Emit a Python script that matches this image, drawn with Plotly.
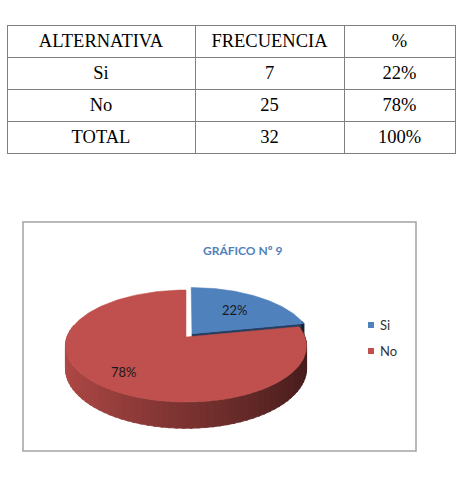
import numpy as np
import plotly.graph_objects as go

# ---------------- data ----------------
categories = ["Si", "No"]
frequencies = [7, 25]
table_header = ["ALTERNATIVA", "FRECUENCIA", "%"]
total_label = "TOTAL"
chart_title = "GRÁFICO Nº 9"

total = sum(frequencies)
fractions = [f / total for f in frequencies]
pct_labels = [f"{round(p * 100)}%" for p in fractions]

col_alt = categories + [total_label]
col_freq = [str(f) for f in frequencies] + [str(total)]
col_pct = pct_labels + ["100%"]

# ---------------- style / geometry ----------------
W, H = 457, 480
slice_rgb = [(79, 129, 189), (192, 80, 77)]
face_rgb = [(36, 62, 98), (110, 42, 40)]
explode = [0.08, 0.0]
label_r = [0.62, 0.75]
CX, CY, RX, A, K, DEPTH = 186.0, 337.0, 119.0, 54.6, 0.161, 22.0


def proj(theta_deg, r=1.0, z=0.0, off=(0.0, 0.0)):
    t = np.radians(theta_deg)
    c = r * np.cos(t) + off[0]
    s = r * np.sin(t) + off[1]
    w = 1 + K * s
    return CX + RX * c / w, CY - A * s / w + DEPTH * z / w


def rgb(c, b=1.0):
    return "rgb(%d,%d,%d)" % tuple(int(max(0, min(255, v * b))) for v in c)


fig = go.Figure()

# slice angle ranges (clockwise from 12 o'clock)
ranges = []
start = 90.0
for f in fractions:
    end = start - 360.0 * f
    ranges.append((start, end))
    start = end


def add_poly(xs, ys, color, lw=0.6):
    fig.add_trace(go.Scatter(x=list(xs), y=list(ys), mode="lines", fill="toself",
                             fillcolor=color, line=dict(color=color, width=lw),
                             hoverinfo="skip", showlegend=False))


def draw_slice(i):
    a0, a1 = ranges[i]
    mid = np.radians((a0 + a1) / 2)
    off = (explode[i] * np.cos(mid), explode[i] * np.sin(mid))
    col = slice_rgb[i]
    # cut face at end angle (visible for the first, exploded slice)
    if i == 0:
        cx0, cy0 = proj(0, 0, 0, off)
        cx1, cy1 = proj(0, 0, 1, off)
        ex0, ey0 = proj(a1, 1, 0, off)
        ex1, ey1 = proj(a1, 1, 1, off)
        add_poly([cx0, ex0, ex1, cx1, cx0], [cy0, ey0, ey1, cy1, cy0], rgb(face_rgb[i]))
    # outer wall strips (only the ones facing the viewer)
    step = 3.0
    n = int(np.ceil(abs(a0 - a1) / step))
    edges = np.linspace(a0, a1, n + 1)
    for k in range(n):
        ta, tb = edges[k], edges[k + 1]
        tm = (ta + tb) / 2
        if np.sin(np.radians(tm)) > 0.22:
            continue
        ext = (tb - ta) * 0.3 if k < n - 1 else 0.0
        tt = np.linspace(ta, tb + ext, 4)
        xt, yt = proj(tt, 1, 0, off)
        xb, yb = proj(tt[::-1], 1, 1, off)
        b = 0.64 + 0.28 * np.cos(np.radians(tm - 180))
        if i == 0:
            b = 0.5 + 0.25 * np.cos(np.radians(tm - 180))
        add_poly(np.r_[xt, xb, xt[0]], np.r_[yt, yb, yt[0]], rgb(col, b), lw=0.8)
    # top surface
    tt = np.linspace(a0, a1, 200)
    xs, ys = proj(tt, 1, 0, off)
    cx, cy = proj(0, 0, 0, off)
    add_poly(np.r_[cx, xs, cx], np.r_[cy, ys, cy], rgb(col), lw=0.5)
    # data label
    lx, ly = proj(np.degrees(mid), label_r[i], 0, off)
    fig.add_annotation(x=float(lx), y=float(ly), text=pct_labels[i], showarrow=False,
                       font=dict(family="Lato", size=13, color="#1a1a1a"),
                       xanchor="center", yanchor="middle")


draw_slice(0)
draw_slice(1)

# ---------------- table ----------------
fig.add_trace(go.Table(
    domain=dict(x=[7 / W, 455 / W], y=[1 - 156 / H, 1 - 25 / H]),
    columnwidth=[188, 149, 111],
    header=dict(values=table_header, height=32, align="center",
                fill_color="white", line=dict(color="#7f7f7f", width=1),
                font=dict(family="Liberation Serif", size=18.5, color="black")),
    cells=dict(values=[col_alt, col_freq, col_pct], height=32, align="center",
               fill_color="white", line=dict(color="#7f7f7f", width=1),
               font=dict(family="Liberation Serif", size=18.5, color="black")),
))

# ---------------- chart frame, title, legend ----------------
fig.add_shape(type="rect", x0=23, y0=222, x1=416, y1=451, xref="x", yref="y",
              line=dict(color="#a3a3a3", width=1.5), fillcolor="rgba(0,0,0,0)", layer="below")
fig.add_annotation(x=242, y=250, text=chart_title, showarrow=False,
                   font=dict(family="Lato", size=12, color="#4F81BD", weight="bold"),
                   xanchor="center", yanchor="middle")
for i, cat in enumerate(categories):
    yc = 325 + 26 * i
    fig.add_shape(type="rect", x0=368, x1=374, y0=yc - 3, y1=yc + 3, xref="x", yref="y",
                  line=dict(width=0), fillcolor=rgb(slice_rgb[i]))
    fig.add_annotation(x=378, y=yc, text=cat, showarrow=False, xanchor="left", yanchor="middle",
                       font=dict(family="Lato", size=13, color="#333333"))

fig.update_layout(
    width=W, height=H, margin=dict(l=0, r=0, t=0, b=0),
    paper_bgcolor="white", plot_bgcolor="white", showlegend=False,
    xaxis=dict(range=[0, W], visible=False, domain=[0, 1], fixedrange=True),
    yaxis=dict(range=[H, 0], visible=False, domain=[0, 1], fixedrange=True),
)
fig.write_html("out.html")
